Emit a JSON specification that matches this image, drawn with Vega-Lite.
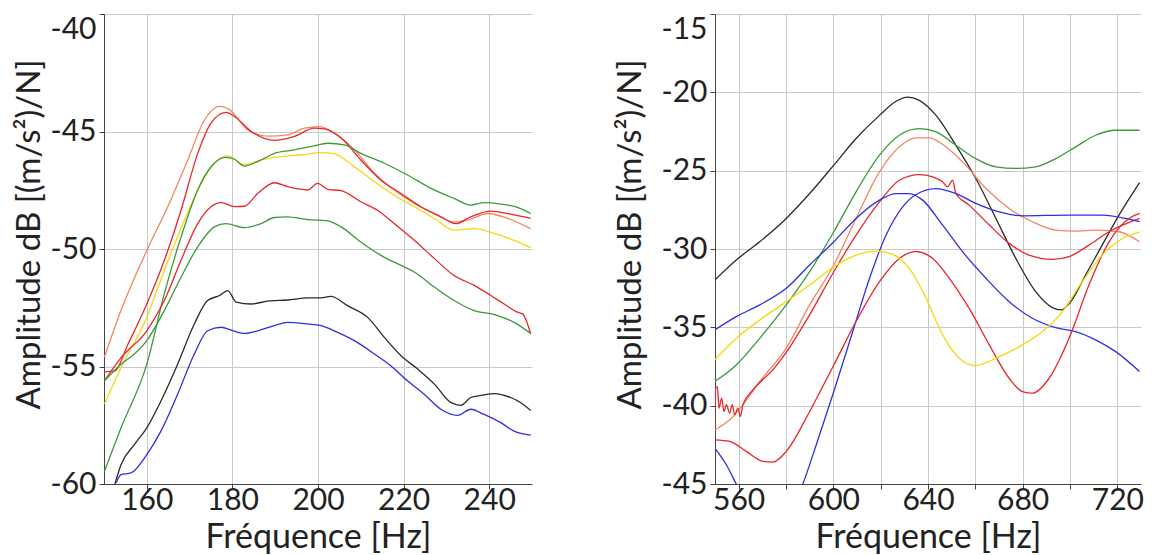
{
"$schema": "https://vega.github.io/schema/vega-lite/v6.json",
"padding": {"left": 13, "top": 13, "right": 5, "bottom": 0},
"spacing": 82,
"background": "white",
"config": {
  "view": {"stroke": null},
  "font": "Lato",
  "axis": {"labelFont": "Lato", "titleFont": "Lato", "labelFontSize": 30, "titleFontSize": 34, "titleFontWeight": "normal", "labelColor": "#222", "titleColor": "#222", "gridColor": "#c9c9c9", "gridWidth": 1, "domainColor": "#444", "tickColor": "#444", "tickSize": 5, "labelPadding": 3},
  "axisX": {"labelPadding": -4, "titlePadding": 5},
  "axisY": {"titleFontSize": 33, "titleY": 220}
},
"datasets": {
"left": [
{"s":"Lo","f":150.1,"d":-54.6},{"s":"Lo","f":154,"d":-52.6},{"s":"Lo","f":160,"d":-50.06},{"s":"Lo","f":164.9,"d":-48.2},{"s":"Lo","f":169.6,"d":-46.2},{"s":"Lo","f":173.5,"d":-44.5},{"s":"Lo","f":177,"d":-43.93},{"s":"Lo","f":179.3,"d":-44.07},{"s":"Lo","f":183.6,"d":-44.93},{"s":"Lo","f":188.2,"d":-45.2},{"s":"Lo","f":192.9,"d":-45.14},{"s":"Lo","f":196.8,"d":-44.86},{"s":"Lo","f":200.3,"d":-44.79},{"s":"Lo","f":203.8,"d":-45.07},{"s":"Lo","f":208.5,"d":-45.78},{"s":"Lo","f":213.2,"d":-46.78},{"s":"Lo","f":217.8,"d":-47.49},{"s":"Lo","f":222.5,"d":-48.06},{"s":"Lo","f":227.2,"d":-48.49},{"s":"Lo","f":231.8,"d":-48.85},{"s":"Lo","f":234.9,"d":-48.77},{"s":"Lo","f":239.6,"d":-48.49},{"s":"Lo","f":244.3,"d":-48.7},{"s":"Lo","f":249.7,"d":-49.13},
{"s":"Lr1","f":150.1,"d":-55.23},{"s":"Lr1","f":152.5,"d":-55.19},{"s":"Lr1","f":155.6,"d":-54.05},{"s":"Lr1","f":160,"d":-52.34},{"s":"Lr1","f":164.1,"d":-50.48},{"s":"Lr1","f":168,"d":-48.35},{"s":"Lr1","f":171.9,"d":-45.93},{"s":"Lr1","f":175,"d":-44.64},{"s":"Lr1","f":178.5,"d":-44.19},{"s":"Lr1","f":180.5,"d":-44.36},{"s":"Lr1","f":184.4,"d":-45.0},{"s":"Lr1","f":189.8,"d":-45.38},{"s":"Lr1","f":194.5,"d":-45.21},{"s":"Lr1","f":199.1,"d":-44.86},{"s":"Lr1","f":201.5,"d":-44.89},{"s":"Lr1","f":205.4,"d":-45.28},{"s":"Lr1","f":210,"d":-46.21},{"s":"Lr1","f":214.7,"d":-47.07},{"s":"Lr1","f":219.4,"d":-47.64},{"s":"Lr1","f":224,"d":-48.2},{"s":"Lr1","f":228.7,"d":-48.63},{"s":"Lr1","f":232.2,"d":-48.92},{"s":"Lr1","f":235.7,"d":-48.63},{"s":"Lr1","f":240.4,"d":-48.39},{"s":"Lr1","f":245,"d":-48.52},{"s":"Lr1","f":249.7,"d":-48.7},
{"s":"Ly","f":150.1,"d":-56.6},{"s":"Ly","f":154,"d":-55.04},{"s":"Ly","f":160,"d":-52.9},{"s":"Ly","f":164.1,"d":-50.9},{"s":"Ly","f":168.8,"d":-48.77},{"s":"Ly","f":172.7,"d":-47.2},{"s":"Ly","f":176.2,"d":-46.28},{"s":"Ly","f":178.9,"d":-46.04},{"s":"Ly","f":182.8,"d":-46.42},{"s":"Ly","f":186.7,"d":-46.21},{"s":"Ly","f":191.4,"d":-46.07},{"s":"Ly","f":196,"d":-46.0},{"s":"Ly","f":200.7,"d":-45.9},{"s":"Ly","f":203.8,"d":-45.95},{"s":"Ly","f":208.5,"d":-46.5},{"s":"Ly","f":213.2,"d":-47.14},{"s":"Ly","f":217.8,"d":-47.71},{"s":"Ly","f":222.5,"d":-48.2},{"s":"Ly","f":227.2,"d":-48.7},{"s":"Ly","f":231.8,"d":-49.2},{"s":"Ly","f":236.5,"d":-49.13},{"s":"Ly","f":241.2,"d":-49.34},{"s":"Ly","f":245.8,"d":-49.63},{"s":"Ly","f":249.7,"d":-49.94},
{"s":"Lg1","f":150.1,"d":-59.46},{"s":"Lg1","f":154,"d":-57.6},{"s":"Lg1","f":160,"d":-54.9},{"s":"Lg1","f":164.1,"d":-51.9},{"s":"Lg1","f":168,"d":-49.49},{"s":"Lg1","f":171.9,"d":-47.49},{"s":"Lg1","f":175,"d":-46.5},{"s":"Lg1","f":178.5,"d":-46.1},{"s":"Lg1","f":180.5,"d":-46.18},{"s":"Lg1","f":182.8,"d":-46.47},{"s":"Lg1","f":185.9,"d":-46.28},{"s":"Lg1","f":189.8,"d":-45.93},{"s":"Lg1","f":194.5,"d":-45.78},{"s":"Lg1","f":199.1,"d":-45.61},{"s":"Lg1","f":202.3,"d":-45.5},{"s":"Lg1","f":206.1,"d":-45.57},{"s":"Lg1","f":210,"d":-45.93},{"s":"Lg1","f":215.5,"d":-46.35},{"s":"Lg1","f":220.9,"d":-46.85},{"s":"Lg1","f":226.4,"d":-47.42},{"s":"Lg1","f":231.8,"d":-47.85},{"s":"Lg1","f":235.7,"d":-48.13},{"s":"Lg1","f":238.8,"d":-48.03},{"s":"Lg1","f":242.7,"d":-48.09},{"s":"Lg1","f":246.6,"d":-48.23},{"s":"Lg1","f":249.7,"d":-48.49},
{"s":"Lr2","f":150.1,"d":-55.61},{"s":"Lr2","f":154,"d":-54.62},{"s":"Lr2","f":160,"d":-53.48},{"s":"Lr2","f":164.1,"d":-52.19},{"s":"Lr2","f":168,"d":-50.48},{"s":"Lr2","f":171.9,"d":-48.92},{"s":"Lr2","f":175,"d":-48.2},{"s":"Lr2","f":177.4,"d":-48.03},{"s":"Lr2","f":180.5,"d":-48.2},{"s":"Lr2","f":182.8,"d":-48.18},{"s":"Lr2","f":185.9,"d":-47.64},{"s":"Lr2","f":189.8,"d":-47.18},{"s":"Lr2","f":192.9,"d":-47.35},{"s":"Lr2","f":197.6,"d":-47.49},{"s":"Lr2","f":199.9,"d":-47.21},{"s":"Lr2","f":202.3,"d":-47.46},{"s":"Lr2","f":205.4,"d":-47.52},{"s":"Lr2","f":210,"d":-47.99},{"s":"Lr2","f":213.9,"d":-48.35},{"s":"Lr2","f":217.8,"d":-48.92},{"s":"Lr2","f":222.5,"d":-49.63},{"s":"Lr2","f":227.2,"d":-50.41},{"s":"Lr2","f":231.8,"d":-51.13},{"s":"Lr2","f":236.5,"d":-51.55},{"s":"Lr2","f":240.4,"d":-51.98},{"s":"Lr2","f":243.5,"d":-52.34},{"s":"Lr2","f":246.6,"d":-52.69},{"s":"Lr2","f":247.8,"d":-52.76},{"s":"Lr2","f":249.7,"d":-53.62},
{"s":"Lg2","f":150.1,"d":-55.61},{"s":"Lg2","f":154,"d":-54.9},{"s":"Lg2","f":157.1,"d":-54.47},{"s":"Lg2","f":160,"d":-53.9},{"s":"Lg2","f":164.1,"d":-52.62},{"s":"Lg2","f":168,"d":-51.2},{"s":"Lg2","f":171.9,"d":-49.91},{"s":"Lg2","f":175.8,"d":-49.06},{"s":"Lg2","f":178.5,"d":-48.92},{"s":"Lg2","f":182.8,"d":-49.09},{"s":"Lg2","f":186.7,"d":-48.92},{"s":"Lg2","f":189.8,"d":-48.66},{"s":"Lg2","f":192.9,"d":-48.63},{"s":"Lg2","f":197.6,"d":-48.75},{"s":"Lg2","f":202.3,"d":-48.8},{"s":"Lg2","f":205.4,"d":-49.06},{"s":"Lg2","f":210,"d":-49.7},{"s":"Lg2","f":214.7,"d":-50.27},{"s":"Lg2","f":219.4,"d":-50.7},{"s":"Lg2","f":222.5,"d":-50.98},{"s":"Lg2","f":227.2,"d":-51.62},{"s":"Lg2","f":231.8,"d":-52.19},{"s":"Lg2","f":236.5,"d":-52.62},{"s":"Lg2","f":241.2,"d":-52.79},{"s":"Lg2","f":245.8,"d":-53.12},{"s":"Lg2","f":249.7,"d":-53.59},
{"s":"Lk","f":152.5,"d":-60.03},{"s":"Lk","f":154,"d":-59.17},{"s":"Lk","f":157.1,"d":-58.32},{"s":"Lk","f":160,"d":-57.61},{"s":"Lk","f":163.3,"d":-56.47},{"s":"Lk","f":167.2,"d":-54.9},{"s":"Lk","f":171.1,"d":-53.19},{"s":"Lk","f":174.2,"d":-52.19},{"s":"Lk","f":177,"d":-51.98},{"s":"Lk","f":178.9,"d":-51.77},{"s":"Lk","f":180.9,"d":-52.26},{"s":"Lk","f":184.4,"d":-52.34},{"s":"Lk","f":188.2,"d":-52.22},{"s":"Lk","f":192.9,"d":-52.17},{"s":"Lk","f":197.6,"d":-52.08},{"s":"Lk","f":200.7,"d":-52.08},{"s":"Lk","f":203,"d":-52.02},{"s":"Lk","f":206.9,"d":-52.41},{"s":"Lk","f":211.6,"d":-52.91},{"s":"Lk","f":215.5,"d":-53.76},{"s":"Lk","f":219.4,"d":-54.54},{"s":"Lk","f":223.3,"d":-55.11},{"s":"Lk","f":227.2,"d":-55.75},{"s":"Lk","f":231.1,"d":-56.54},{"s":"Lk","f":233.4,"d":-56.65},{"s":"Lk","f":235.7,"d":-56.32},{"s":"Lk","f":238.1,"d":-56.23},{"s":"Lk","f":241.2,"d":-56.15},{"s":"Lk","f":245,"d":-56.32},{"s":"Lk","f":247.4,"d":-56.54},{"s":"Lk","f":249.7,"d":-56.87},
{"s":"Lb","f":152.8,"d":-59.96},{"s":"Lb","f":154,"d":-59.6},{"s":"Lb","f":156.3,"d":-59.53},{"s":"Lb","f":160,"d":-58.75},{"s":"Lb","f":163.3,"d":-57.75},{"s":"Lb","f":167.2,"d":-56.18},{"s":"Lb","f":171.1,"d":-54.47},{"s":"Lb","f":174.2,"d":-53.48},{"s":"Lb","f":177.4,"d":-53.33},{"s":"Lb","f":179.7,"d":-53.45},{"s":"Lb","f":182.8,"d":-53.59},{"s":"Lb","f":185.9,"d":-53.48},{"s":"Lb","f":189.8,"d":-53.26},{"s":"Lb","f":192.9,"d":-53.12},{"s":"Lb","f":197.6,"d":-53.19},{"s":"Lb","f":200.7,"d":-53.26},{"s":"Lb","f":203.8,"d":-53.48},{"s":"Lb","f":208.5,"d":-53.9},{"s":"Lb","f":213.2,"d":-54.47},{"s":"Lb","f":217,"d":-54.97},{"s":"Lb","f":220.9,"d":-55.61},{"s":"Lb","f":224.8,"d":-56.18},{"s":"Lb","f":228.7,"d":-56.82},{"s":"Lb","f":232.6,"d":-57.08},{"s":"Lb","f":235.7,"d":-56.82},{"s":"Lb","f":238.8,"d":-57.04},{"s":"Lb","f":242.7,"d":-57.39},{"s":"Lb","f":245.8,"d":-57.75},{"s":"Lb","f":249.7,"d":-57.92}
],
"right": [
{"s":"Rk","f":549.9,"d":-31.98},{"s":"Rk","f":559,"d":-30.7},{"s":"Rk","f":568.9,"d":-29.54},{"s":"Rk","f":580.1,"d":-28.05},{"s":"Rk","f":590,"d":-26.46},{"s":"Rk","f":600.2,"d":-24.65},{"s":"Rk","f":609.6,"d":-22.95},{"s":"Rk","f":619.5,"d":-21.47},{"s":"Rk","f":626.5,"d":-20.57},{"s":"Rk","f":631.4,"d":-20.3},{"s":"Rk","f":636.3,"d":-20.51},{"s":"Rk","f":643.4,"d":-21.47},{"s":"Rk","f":651.8,"d":-23.38},{"s":"Rk","f":660.2,"d":-25.5},{"s":"Rk","f":668.7,"d":-28.05},{"s":"Rk","f":677.1,"d":-30.6},{"s":"Rk","f":685.5,"d":-32.72},{"s":"Rk","f":692.6,"d":-33.74},{"s":"Rk","f":696.1,"d":-33.89},{"s":"Rk","f":700.3,"d":-33.36},{"s":"Rk","f":706.6,"d":-31.66},{"s":"Rk","f":713.6,"d":-29.75},{"s":"Rk","f":720.7,"d":-27.84},{"s":"Rk","f":729.4,"d":-25.76},
{"s":"Rg","f":549.9,"d":-38.46},{"s":"Rg","f":559,"d":-37.4},{"s":"Rg","f":568.9,"d":-35.7},{"s":"Rg","f":580.1,"d":-33.57},{"s":"Rg","f":590,"d":-31.45},{"s":"Rg","f":600.2,"d":-28.9},{"s":"Rg","f":609.6,"d":-26.35},{"s":"Rg","f":619.5,"d":-24.01},{"s":"Rg","f":627.9,"d":-22.74},{"s":"Rg","f":636.3,"d":-22.32},{"s":"Rg","f":643.4,"d":-22.53},{"s":"Rg","f":651.8,"d":-23.38},{"s":"Rg","f":660.2,"d":-24.23},{"s":"Rg","f":668.7,"d":-24.76},{"s":"Rg","f":677.1,"d":-24.86},{"s":"Rg","f":685.5,"d":-24.76},{"s":"Rg","f":694,"d":-24.23},{"s":"Rg","f":702.4,"d":-23.48},{"s":"Rg","f":710.8,"d":-22.74},{"s":"Rg","f":719.3,"d":-22.42},{"s":"Rg","f":729.4,"d":-22.42},
{"s":"Ro","f":549.9,"d":-41.54},{"s":"Ro","f":556.2,"d":-40.9},{"s":"Ro","f":561.8,"d":-39.94},{"s":"Ro","f":568.9,"d":-38.46},{"s":"Ro","f":580.1,"d":-36.33},{"s":"Ro","f":590,"d":-33.57},{"s":"Ro","f":600.2,"d":-31.02},{"s":"Ro","f":609.6,"d":-28.05},{"s":"Ro","f":619.5,"d":-25.08},{"s":"Ro","f":627.9,"d":-23.48},{"s":"Ro","f":634.9,"d":-22.91},{"s":"Ro","f":640.6,"d":-22.91},{"s":"Ro","f":646.2,"d":-23.33},{"s":"Ro","f":654.6,"d":-24.44},{"s":"Ro","f":664.5,"d":-26.14},{"s":"Ro","f":674.3,"d":-27.41},{"s":"Ro","f":684.1,"d":-28.26},{"s":"Ro","f":694,"d":-28.79},{"s":"Ro","f":702.4,"d":-28.86},{"s":"Ro","f":710.8,"d":-28.79},{"s":"Ro","f":720.7,"d":-28.9},{"s":"Ro","f":729.4,"d":-29.54},
{"s":"Rr1","f":549.9,"d":-41.43},{"s":"Rr1","f":550.3,"d":-38.88},{"s":"Rr1","f":551,"d":-38.78},{"s":"Rr1","f":551.7,"d":-40.16},{"s":"Rr1","f":552.8,"d":-39.52},{"s":"Rr1","f":553.8,"d":-40.37},{"s":"Rr1","f":554.8,"d":-39.94},{"s":"Rr1","f":556.2,"d":-40.48},{"s":"Rr1","f":557.3,"d":-39.94},{"s":"Rr1","f":558.3,"d":-40.58},{"s":"Rr1","f":559.7,"d":-40.16},{"s":"Rr1","f":560.7,"d":-40.69},{"s":"Rr1","f":561.8,"d":-39.94},{"s":"Rr1","f":566,"d":-39.0},{"s":"Rr1","f":574.5,"d":-37.7},{"s":"Rr1","f":580.1,"d":-36.6},{"s":"Rr1","f":590,"d":-34.2},{"s":"Rr1","f":600.2,"d":-31.45},{"s":"Rr1","f":609.6,"d":-29.11},{"s":"Rr1","f":619.5,"d":-26.99},{"s":"Rr1","f":627.9,"d":-25.61},{"s":"Rr1","f":636.3,"d":-25.25},{"s":"Rr1","f":642,"d":-25.4},{"s":"Rr1","f":646.2,"d":-25.71},{"s":"Rr1","f":648.3,"d":-26.03},{"s":"Rr1","f":650.4,"d":-25.61},{"s":"Rr1","f":651.8,"d":-26.46},{"s":"Rr1","f":657.4,"d":-27.2},{"s":"Rr1","f":665.9,"d":-28.47},{"s":"Rr1","f":674.3,"d":-29.64},{"s":"Rr1","f":682.7,"d":-30.39},{"s":"Rr1","f":692.6,"d":-30.66},{"s":"Rr1","f":699.6,"d":-30.49},{"s":"Rr1","f":708,"d":-29.75},{"s":"Rr1","f":716.5,"d":-28.9},{"s":"Rr1","f":729.4,"d":-28.05},
{"s":"Rb1","f":549.9,"d":-35.17},{"s":"Rb1","f":559,"d":-34.32},{"s":"Rb1","f":568.9,"d":-33.57},{"s":"Rb1","f":580.1,"d":-32.51},{"s":"Rb1","f":590,"d":-31.02},{"s":"Rb1","f":600.2,"d":-29.54},{"s":"Rb1","f":609.6,"d":-28.05},{"s":"Rb1","f":619.5,"d":-26.88},{"s":"Rb1","f":626.5,"d":-26.46},{"s":"Rb1","f":632.1,"d":-26.46},{"s":"Rb1","f":637.7,"d":-26.88},{"s":"Rb1","f":646.2,"d":-28.48},{"s":"Rb1","f":654.6,"d":-30.17},{"s":"Rb1","f":664.5,"d":-31.87},{"s":"Rb1","f":674.3,"d":-33.36},{"s":"Rb1","f":684.1,"d":-34.42},{"s":"Rb1","f":694,"d":-35.02},{"s":"Rb1","f":702.4,"d":-35.27},{"s":"Rb1","f":710.8,"d":-35.8},{"s":"Rb1","f":719.3,"d":-36.55},{"s":"Rb1","f":729.4,"d":-37.82},
{"s":"Rb2","f":549.9,"d":-42.71},{"s":"Rb2","f":554.8,"d":-43.77},{"s":"Rb2","f":559,"d":-45.0},{"s":"Rb2","f":566,"d":-46.6},{"s":"Rb2","f":573,"d":-47.6},{"s":"Rb2","f":580,"d":-47.2},{"s":"Rb2","f":587.1,"d":-45.0},{"s":"Rb2","f":592.8,"d":-42.49},{"s":"Rb2","f":600.2,"d":-39.1},{"s":"Rb2","f":608.2,"d":-35.27},{"s":"Rb2","f":615.3,"d":-31.87},{"s":"Rb2","f":622.3,"d":-29.11},{"s":"Rb2","f":629.3,"d":-27.31},{"s":"Rb2","f":634.9,"d":-26.52},{"s":"Rb2","f":643.4,"d":-26.14},{"s":"Rb2","f":651.8,"d":-26.46},{"s":"Rb2","f":660.2,"d":-27.09},{"s":"Rb2","f":670.1,"d":-27.63},{"s":"Rb2","f":679.9,"d":-27.88},{"s":"Rb2","f":699.6,"d":-27.84},{"s":"Rb2","f":713.6,"d":-27.84},{"s":"Rb2","f":723.5,"d":-28.05},{"s":"Rb2","f":729.4,"d":-28.26},
{"s":"Rr2","f":549.9,"d":-42.18},{"s":"Rr2","f":556.2,"d":-42.28},{"s":"Rr2","f":563.2,"d":-42.92},{"s":"Rr2","f":570.3,"d":-43.56},{"s":"Rr2","f":574.5,"d":-43.6},{"s":"Rr2","f":580.1,"d":-42.92},{"s":"Rr2","f":590,"d":-40.37},{"s":"Rr2","f":600.2,"d":-37.4},{"s":"Rr2","f":609.6,"d":-34.63},{"s":"Rr2","f":619.5,"d":-32.09},{"s":"Rr2","f":627.9,"d":-30.6},{"s":"Rr2","f":634.9,"d":-30.17},{"s":"Rr2","f":642,"d":-30.6},{"s":"Rr2","f":649,"d":-31.87},{"s":"Rr2","f":657.4,"d":-33.79},{"s":"Rr2","f":665.9,"d":-36.12},{"s":"Rr2","f":674.3,"d":-38.25},{"s":"Rr2","f":679.9,"d":-39.1},{"s":"Rr2","f":684.1,"d":-39.2},{"s":"Rr2","f":691.2,"d":-38.25},{"s":"Rr2","f":699.6,"d":-35.7},{"s":"Rr2","f":708,"d":-32.3},{"s":"Rr2","f":716.5,"d":-29.54},{"s":"Rr2","f":724.9,"d":-28.05},{"s":"Rr2","f":729.4,"d":-27.73},
{"s":"Ry","f":549.9,"d":-37.08},{"s":"Ry","f":559,"d":-35.7},{"s":"Ry","f":568.9,"d":-34.53},{"s":"Ry","f":580.1,"d":-33.36},{"s":"Ry","f":590,"d":-32.3},{"s":"Ry","f":600.2,"d":-31.13},{"s":"Ry","f":609.6,"d":-30.39},{"s":"Ry","f":618.1,"d":-30.13},{"s":"Ry","f":625.1,"d":-30.34},{"s":"Ry","f":632.1,"d":-31.24},{"s":"Ry","f":639.2,"d":-33.15},{"s":"Ry","f":646.2,"d":-35.48},{"s":"Ry","f":653.2,"d":-36.97},{"s":"Ry","f":660.2,"d":-37.44},{"s":"Ry","f":668.7,"d":-36.97},{"s":"Ry","f":679.9,"d":-36.12},{"s":"Ry","f":688.4,"d":-35.27},{"s":"Ry","f":696.8,"d":-34.0},{"s":"Ry","f":705.2,"d":-32.09},{"s":"Ry","f":713.6,"d":-30.39},{"s":"Ry","f":722.1,"d":-29.33},{"s":"Ry","f":729.4,"d":-28.9}
]
},
"hconcat": [
{
  "width": 428, "height": 470,
  "data": {"name": "left"},
  "mark": {"type": "line", "strokeWidth": 1.3, "clip": true, "interpolate": "monotone"},
  "encoding": {
    "x": {"field": "f", "type": "quantitative", "scale": {"domain": [150, 250], "nice": false, "zero": false}, "axis": {"values": [160, 180, 200, 220, 240], "title": "Fréquence [Hz]", "labelFlush": false}},
    "y": {"field": "d", "type": "quantitative", "scale": {"domain": [-60, -40], "nice": false, "zero": false}, "axis": {"values": [-60, -55, -50, -45, -40], "labelExpr": "'-' + abs(datum.value)", "title": "Amplitude dB [(m/s²)/N]", "labelBaseline": {"condition": {"test": "datum.value == -40", "value": "top"}, "value": "middle"}}},
    "color": {"field": "s", "type": "nominal", "legend": null, "scale": {"domain": ["Lo","Lr1","Ly","Lg1","Lr2","Lg2","Lk","Lb","Rk","Rg","Ro","Rr1","Rb1","Rb2","Rr2","Ry"], "range": ["#f4875f","#e8262b","#f5d90a","#3a9a3a","#e8262b","#3a9a3a","#2a2a2a","#2f2fe0","#2a2a2a","#3a9a3a","#f4875f","#e8262b","#2f2fe0","#2f2fe0","#e8262b","#f5d90a"]}}
  }
},
{
  "width": 426, "height": 470,
  "data": {"name": "right"},
  "mark": {"type": "line", "strokeWidth": 1.3, "clip": true, "interpolate": "monotone"},
  "encoding": {
    "x": {"field": "f", "type": "quantitative", "scale": {"domain": [550, 730], "nice": false, "zero": false}, "axis": {"values": [560, 580, 600, 620, 640, 660, 680, 700, 720], "labelExpr": "datum.value % 40 == 0 ? datum.label : ''", "title": "Fréquence [Hz]", "labelFlush": false}},
    "y": {"field": "d", "type": "quantitative", "scale": {"domain": [-45, -15], "nice": false, "zero": false}, "axis": {"values": [-45, -40, -35, -30, -25, -20, -15], "labelExpr": "'-' + abs(datum.value)", "title": "Amplitude dB [(m/s²)/N]", "titlePadding": 14, "labelBaseline": {"condition": {"test": "datum.value == -15", "value": "top"}, "value": "middle"}}},
    "color": {"field": "s", "type": "nominal", "legend": null, "scale": {"domain": ["Lo","Lr1","Ly","Lg1","Lr2","Lg2","Lk","Lb","Rk","Rg","Ro","Rr1","Rb1","Rb2","Rr2","Ry"], "range": ["#f4875f","#e8262b","#f5d90a","#3a9a3a","#e8262b","#3a9a3a","#2a2a2a","#2f2fe0","#2a2a2a","#3a9a3a","#f4875f","#e8262b","#2f2fe0","#2f2fe0","#e8262b","#f5d90a"]}}
  }
}
]
}
